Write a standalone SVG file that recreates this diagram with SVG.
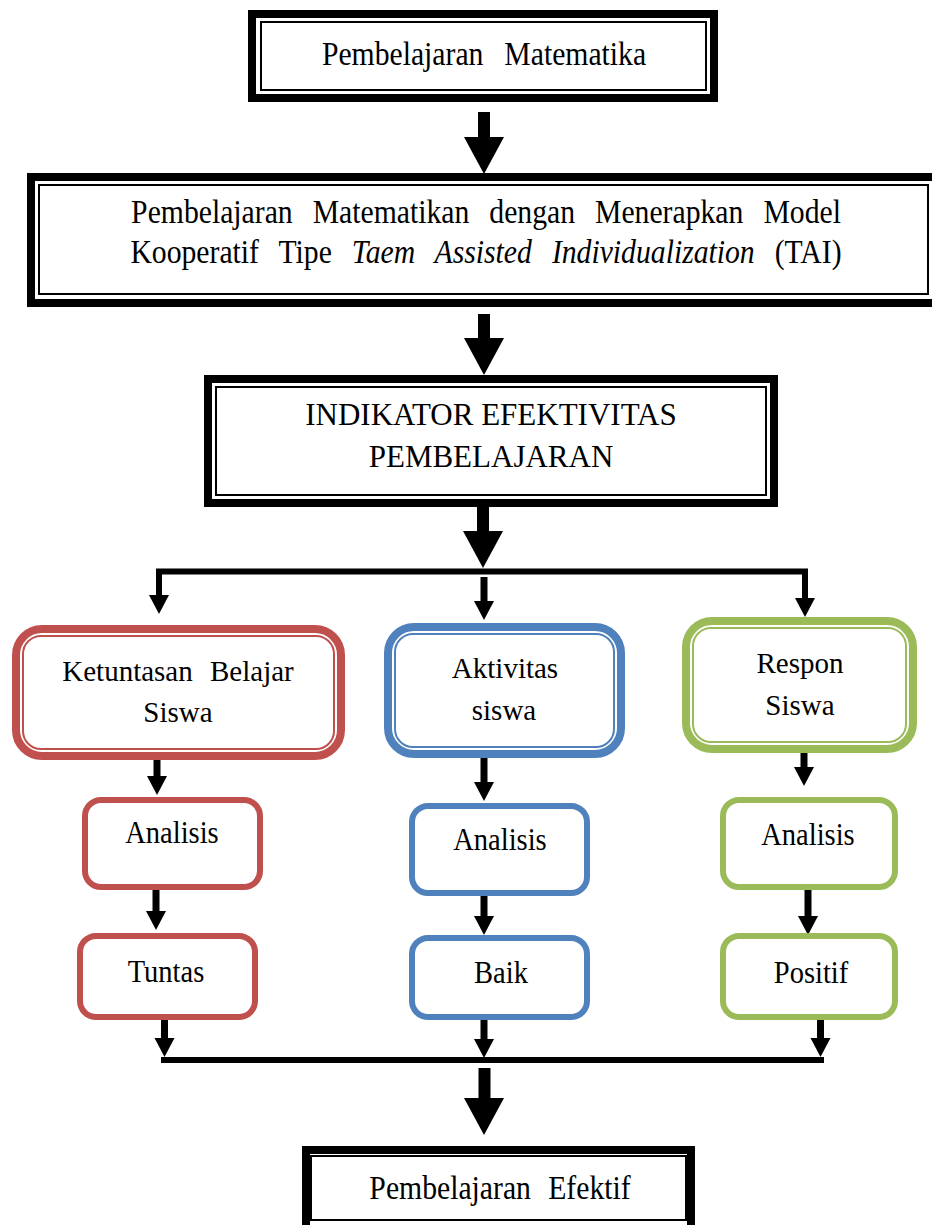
<svg xmlns="http://www.w3.org/2000/svg" xmlns:xlink="http://www.w3.org/1999/xlink" width="932" height="1225" viewBox="0 0 932 1225">
<style>
  text { font-family: "Liberation Serif", "Times New Roman", serif; fill: #000; text-anchor: middle; }
  .t33 { font-size: 33px; }
  .t31 { font-size: 31px; }
  .t29 { font-size: 29px; }
  .thick { fill: #fff; stroke: #000; stroke-width: 8; }
  .thin { fill: none; stroke: #000; stroke-width: 2; }
  .red { stroke: #C0504D; }
  .blue { stroke: #4F81BD; }
  .green { stroke: #9BBB59; }
  .cthick { fill: #fff; stroke-width: 8; }
  .cthin { fill: none; stroke-width: 2; }
  .csmall { fill: #fff; stroke-width: 6; }
  .shaft { stroke: #000; stroke-width: 7; fill: none; }
  .bshaft { stroke: #000; stroke-width: 12; fill: none; }
  .hline { stroke: #000; stroke-width: 6; fill: none; stroke-linejoin: miter; }
</style>
<defs>
  <path id="sh" d="M-10,-19 L10,-19 L0,0 Z" fill="#000"/>
  <path id="bh" d="M-20,-37 L20,-37 L0,0 Z" fill="#000"/>
</defs>
<rect width="932" height="1225" fill="#fff"/>

<g id="connectors">
  <line class="bshaft" x1="484" y1="112" x2="484" y2="140"/>
  <use xlink:href="#bh" x="484" y="174"/>
  <line class="bshaft" x1="484" y1="314" x2="484" y2="341"/>
  <use xlink:href="#bh" x="484" y="375"/>
  <line class="bshaft" x1="483" y1="507" x2="483" y2="534"/>
  <use xlink:href="#bh" x="483" y="568"/>
  <path class="hline" d="M159,597 L159,571.5 L805,571.5 L805,600"/>
  <use xlink:href="#sh" x="159" y="614"/>
  <use xlink:href="#sh" x="805" y="617"/>
  <line class="shaft" x1="484" y1="577" x2="484" y2="603"/>
  <use xlink:href="#sh" x="484" y="620"/>

  <line class="shaft" x1="157" y1="760" x2="157" y2="778"/>
  <use xlink:href="#sh" x="157" y="795"/>
  <line class="shaft" x1="484" y1="758" x2="484" y2="783"/>
  <use xlink:href="#sh" x="484" y="801"/>
  <line class="shaft" x1="804" y1="753" x2="804" y2="769"/>
  <use xlink:href="#sh" x="804" y="786"/>

  <line class="shaft" x1="156" y1="890" x2="156" y2="913"/>
  <use xlink:href="#sh" x="156" y="930"/>
  <line class="shaft" x1="484" y1="896" x2="484" y2="918"/>
  <use xlink:href="#sh" x="484" y="935"/>
  <line class="shaft" x1="808" y1="890" x2="808" y2="918"/>
  <use xlink:href="#sh" x="808" y="935"/>

  <line class="shaft" x1="164.5" y1="1020" x2="164.5" y2="1040"/>
  <use xlink:href="#sh" x="164.5" y="1057"/>
  <line class="shaft" x1="484" y1="1020" x2="484" y2="1041"/>
  <use xlink:href="#sh" x="484" y="1058"/>
  <line class="shaft" x1="820.5" y1="1020" x2="820.5" y2="1040"/>
  <use xlink:href="#sh" x="820.5" y="1057"/>
  <line class="hline" x1="161" y1="1060" x2="824" y2="1060"/>
  <line class="bshaft" x1="484.5" y1="1068" x2="484.5" y2="1100"/>
  <use xlink:href="#bh" x="484" y="1135"/>
</g>

<g id="node-pembelajaran-matematika">
  <rect class="thick" x="252" y="14" width="462" height="84"/>
  <rect class="thin" x="261" y="22" width="445" height="68"/>
  <text class="t33" transform="translate(484,65) scale(0.9,1)" word-spacing="15">Pembelajaran Matematika</text>
</g>

<g id="node-tai">
  <rect class="thick" x="31" y="177" width="905" height="126"/>
  <rect class="thin" x="39" y="185" width="889" height="109"/>
  <text class="t33" transform="translate(486,223) scale(0.9,1)" word-spacing="14">Pembelajaran Matematikan dengan Menerapkan Model</text>
  <text class="t33" transform="translate(486,263) scale(0.9,1)" word-spacing="14">Kooperatif Tipe <tspan font-style="italic">Taem Assisted Individualization</tspan> (TAI)</text>
</g>

<g id="node-indikator">
  <rect class="thick" x="208" y="379" width="566" height="124"/>
  <rect class="thin" x="216" y="387" width="550" height="108"/>
  <text class="t31" x="491" y="425">INDIKATOR EFEKTIVITAS</text>
  <text class="t31" x="491" y="467">PEMBELAJARAN</text>
</g>

<g id="node-ketuntasan">
  <rect class="cthick red" x="16" y="629" width="325" height="127" rx="26"/>
  <rect class="cthin red" x="23" y="636" width="311" height="113" rx="18"/>
  <text class="t29" x="178" y="681" word-spacing="10">Ketuntasan Belajar</text>
  <text class="t29" x="178" y="722">Siswa</text>
</g>

<g id="node-aktivitas">
  <rect class="cthick blue" x="388" y="627" width="233" height="127" rx="26"/>
  <rect class="cthin blue" x="395" y="634" width="219" height="113" rx="18"/>
  <text class="t29" x="505" y="678">Aktivitas</text>
  <text class="t29" x="504" y="720">siswa</text>
</g>

<g id="node-respon">
  <rect class="cthick green" x="686" y="621" width="227" height="128" rx="26"/>
  <rect class="cthin green" x="693" y="628" width="213" height="114" rx="18"/>
  <text class="t29" x="800" y="673">Respon</text>
  <text class="t29" x="800" y="715">Siswa</text>
</g>

<g id="node-analisis-red">
  <rect class="csmall red" x="85" y="800" width="175" height="87" rx="16"/>
  <text class="t31" transform="translate(172,843) scale(0.92,1)">Analisis</text>
</g>
<g id="node-tuntas">
  <rect class="csmall red" x="80" y="936" width="175" height="81" rx="16"/>
  <text class="t31" transform="translate(166,982) scale(0.92,1)">Tuntas</text>
</g>

<g id="node-analisis-blue">
  <rect class="csmall blue" x="412" y="806" width="175" height="87" rx="16"/>
  <text class="t31" transform="translate(500,850) scale(0.92,1)">Analisis</text>
</g>
<g id="node-baik">
  <rect class="csmall blue" x="412" y="938" width="175" height="79" rx="16"/>
  <text class="t31" transform="translate(501,983) scale(0.92,1)">Baik</text>
</g>

<g id="node-analisis-green">
  <rect class="csmall green" x="723" y="800" width="172" height="87" rx="16"/>
  <text class="t31" transform="translate(808,845) scale(0.92,1)">Analisis</text>
</g>
<g id="node-positif">
  <rect class="csmall green" x="723" y="936" width="172" height="81" rx="16"/>
  <text class="t31" transform="translate(811,983) scale(0.92,1)">Positif</text>
</g>

<g id="node-efektif">
  <rect class="thick" x="306" y="1150" width="385" height="82"/>
  <rect class="thin" x="311" y="1156" width="375" height="64"/>
  <text class="t33" transform="translate(500,1199) scale(0.9,1)" word-spacing="11">Pembelajaran Efektif</text>
</g>
</svg>
